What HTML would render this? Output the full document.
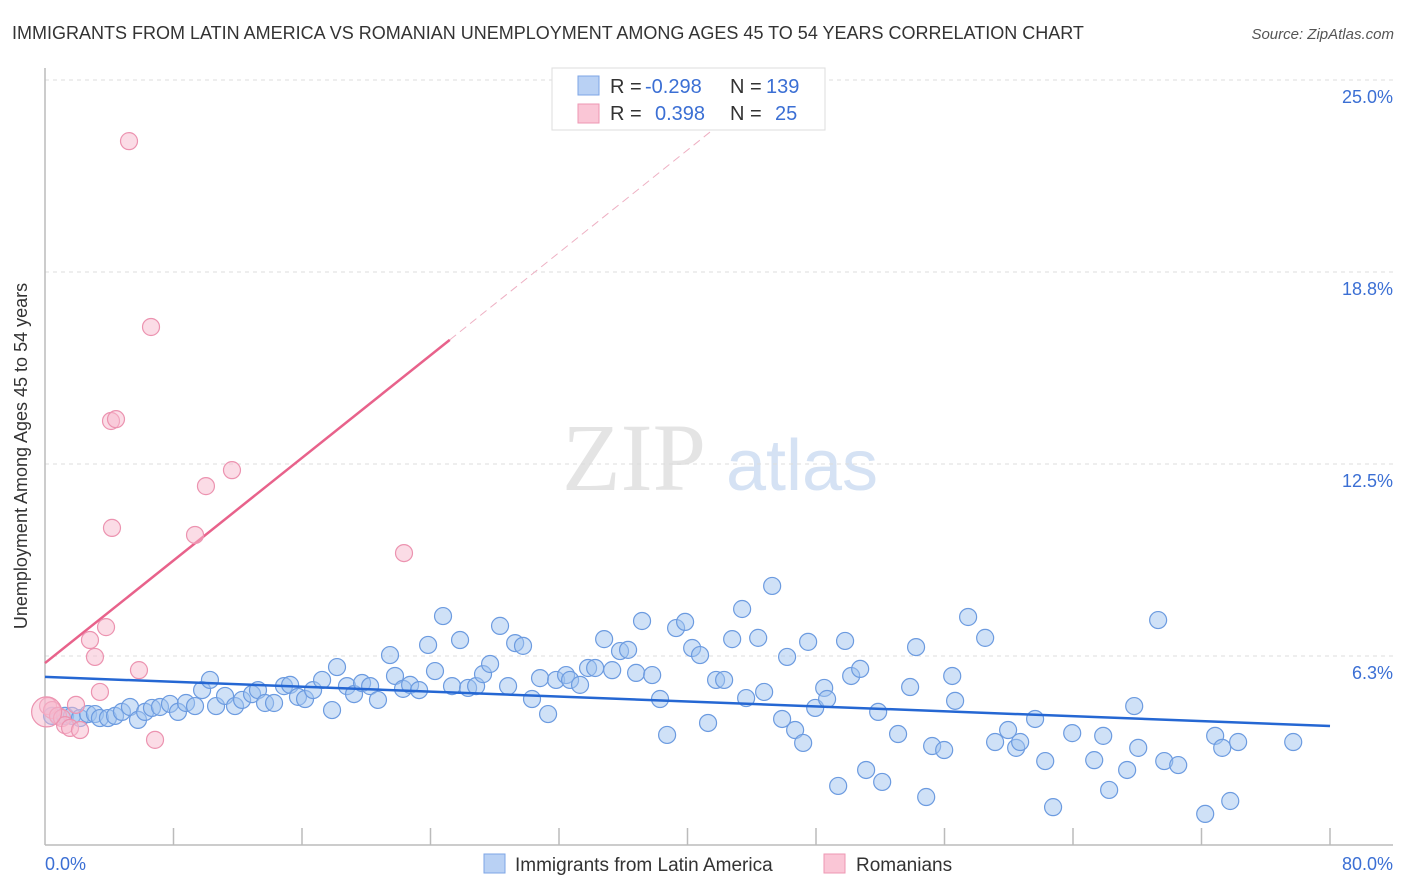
<!DOCTYPE html>
<html><head><meta charset="utf-8"><style>
body{margin:0;background:#fff;font-family:"Liberation Sans",sans-serif;}
svg{display:block}
</style></head><body>
<svg id="chart" width="1406" height="892" xmlns="http://www.w3.org/2000/svg">
<text x="12" y="39" font-size="18" fill="#333">IMMIGRANTS FROM LATIN AMERICA VS ROMANIAN UNEMPLOYMENT AMONG AGES 45 TO 54 YEARS CORRELATION CHART</text>
<text x="1394" y="39" font-size="15" fill="#555" font-style="italic" text-anchor="end">Source: ZipAtlas.com</text>
<g>
<text x="634" y="490" font-size="96" fill="#e4e4e4" text-anchor="middle" font-family="Liberation Serif,serif">ZIP</text>
<text x="802" y="490" font-size="72" fill="#d5e2f4" text-anchor="middle">atlas</text>
</g>
<g id="grid"></g>
<g id="axes"></g>
<g id="trend"></g>
<g id="points"></g>
<text x="27" y="456" font-size="18" fill="#333" text-anchor="middle" transform="rotate(-90 27 456)">Unemployment Among Ages 45 to 54 years</text>
<text x="45" y="870" font-size="18" fill="#3b6fd4">0.0%</text>
<text x="1393" y="870" font-size="18" fill="#3b6fd4" text-anchor="end">80.0%</text>
<g>
<rect x="552" y="68" width="273" height="62" fill="#fff" stroke="#ddd"/>
<rect x="578" y="76" width="21" height="19" fill="#b9d1f4" stroke="#7da5e6"/>
<rect x="578" y="104" width="21" height="19" fill="#fac6d6" stroke="#ee97b3"/>
<text y="93" font-size="20"><tspan x="610" fill="#333">R = </tspan><tspan x="645" fill="#3b6fd4">-0.298</tspan><tspan x="730" fill="#333">N = </tspan><tspan x="766" fill="#3b6fd4">139</tspan></text>
<text y="120" font-size="20"><tspan x="610" fill="#333">R = </tspan><tspan x="655" fill="#3b6fd4">0.398</tspan><tspan x="730" fill="#333">N = </tspan><tspan x="775" fill="#3b6fd4">25</tspan></text>
</g>
<g>
<rect x="484" y="854" width="21" height="19" fill="#b9d1f4" stroke="#7da5e6"/>
<text x="515" y="871" font-size="19" fill="#333">Immigrants from Latin America</text>
<rect x="824" y="854" width="21" height="19" fill="#fac6d6" stroke="#ee97b3"/>
<text x="856" y="871" font-size="19" fill="#333">Romanians</text>
</g>
</svg>
<script>
const yTicks=[6.3,12.5,18.8,25.0];
const yTickVals=[6.25,12.5,18.75,25];
const blueX=[0.44,0.81,1.25,1.68,2.18,2.68,3.11,3.42,3.92,4.36,4.79,5.29,5.79,6.23,6.66,7.16,7.78,8.28,8.78,9.34,9.78,10.27,10.65,11.21,11.83,12.27,12.89,13.26,13.70,14.26,14.88,15.26,15.75,16.19,16.69,17.25,17.87,18.18,18.80,19.24,19.74,20.24,20.73,21.48,21.79,22.29,22.73,23.29,23.85,24.28,24.78,25.34,25.84,26.34,26.84,27.27,27.71,28.33,28.83,29.27,29.76,30.32,30.82,31.32,31.82,32.44,32.69,33.31,33.81,34.25,34.81,35.31,35.80,36.30,36.80,37.17,37.80,38.29,38.73,39.29,39.85,40.29,40.78,41.28,41.78,42.28,42.78,43.40,43.65,44.40,44.77,45.27,45.89,46.20,46.70,47.20,47.51,47.95,48.51,48.69,49.38,49.81,50.19,50.75,51.12,51.87,52.12,53.11,53.86,54.23,54.86,55.23,55.98,56.48,56.66,57.47,58.53,59.15,59.96,60.46,60.71,61.64,62.27,62.76,63.95,65.32,65.88,66.25,67.37,67.81,68.06,69.30,69.68,70.55,72.23,72.85,73.29,73.79,74.28,77.71];
const blueY=[4.30,4.30,4.30,4.30,4.23,4.36,4.36,4.23,4.23,4.30,4.43,4.59,4.17,4.43,4.56,4.59,4.69,4.43,4.72,4.62,5.14,5.47,4.62,4.95,4.62,4.82,5.01,5.14,4.72,4.72,5.27,5.31,4.92,4.85,5.14,5.47,4.49,5.89,5.27,5.01,5.37,5.27,4.82,6.28,5.60,5.18,5.31,5.14,6.61,5.76,7.55,5.27,6.77,5.21,5.27,5.66,5.99,7.23,5.27,6.67,6.58,4.85,5.53,4.36,5.47,5.63,5.47,5.31,5.86,5.86,6.80,5.79,6.41,6.45,5.70,7.39,5.63,4.85,3.68,7.16,7.36,6.51,6.28,4.07,5.47,5.47,6.80,7.78,4.88,6.84,5.08,8.53,4.20,6.22,3.84,3.42,6.71,4.56,5.21,4.85,2.02,6.74,5.60,5.83,2.54,4.43,2.15,3.71,5.24,6.54,1.66,3.32,3.19,5.60,4.79,7.52,6.84,3.45,3.84,3.26,3.45,4.20,2.83,1.33,3.74,2.86,3.65,1.89,2.54,4.62,3.26,7.42,2.83,2.70,1.11,3.65,3.26,1.53,3.45,3.45];
const pinkX=[0.19,0.44,0.81,1.06,1.25,1.56,1.93,2.18,2.80,3.11,3.42,3.80,4.17,4.11,4.42,5.85,6.85,6.60,5.23,9.34,10.02,11.64,22.35,0.10];
const pinkY=[4.62,4.49,4.30,4.23,4.00,3.91,4.66,3.84,6.77,6.22,5.08,7.19,10.42,13.90,13.96,5.79,3.52,16.96,23.01,10.19,11.78,12.30,9.60,4.43];
const blueTrend=[5.57,3.97]; // value at x=0 and x=80
const pinkTrend=[6.02,0.4175]; // intercept, slope
const NS='http://www.w3.org/2000/svg';
const X=v=>45+v/80*1285;
const Y=v=>848-v*30.72;
function mk(tag,attrs,parent){const e=document.createElementNS(NS,tag);for(const k in attrs)e.setAttribute(k,attrs[k]);document.getElementById(parent).appendChild(e);return e;}
yTickVals.forEach((v,i)=>{
 const l=mk('line',{x1:45,x2:1393,y1:Y(v),y2:Y(v),stroke:'#ddd','stroke-dasharray':'4,4'},'grid');
 
 
 const t=mk('text',{x:1393,y:Y(v)+23,'font-size':18,fill:'#3b6fd4','text-anchor':'end'},'grid');
 t.textContent=yTicks[i].toFixed(1)+'%';
 
 
});
const ax=mk('line',{x1:45,x2:1393,y1:845,y2:845,stroke:'#bbb','stroke-width':1.5},'axes');


const ay=mk('line',{x1:45,x2:45,y1:68,y2:845,stroke:'#bbb','stroke-width':1.5},'axes');


for(let i=1;i<=10;i++){const tk=mk('line',{x1:X(i*8),x2:X(i*8),y1:828,y2:845,stroke:'#bbb','stroke-width':1.5},'axes');
 
 }
const pe=25.2, pd=43.3;
const pl=mk('line',{x1:X(0),y1:Y(pinkTrend[0]),x2:X(pe),y2:Y(pinkTrend[0]+pinkTrend[1]*pe),stroke:'#e8628b','stroke-width':2.5},'trend');


const pdl=mk('line',{x1:X(pe),y1:Y(pinkTrend[0]+pinkTrend[1]*pe),x2:X(pd),y2:Y(pinkTrend[0]+pinkTrend[1]*pd),stroke:'#eeb0c3','stroke-width':1,'stroke-dasharray':'8,5'},'trend');


blueX.forEach((v,i)=>{const c=mk('circle',{cx:X(v),cy:Y(blueY[i]),r:8.5,fill:'rgba(160,195,240,0.5)',stroke:'#6c9be0','stroke-width':1.2},'points');
 
 });
pinkX.forEach((v,i)=>{const c=mk('circle',{cx:X(v),cy:Y(pinkY[i]),r:i===pinkX.length-1?15:8.5,fill:'rgba(248,185,205,0.5)',stroke:'#ec93b0','stroke-width':1.2},'points');
 
 });
const bl=mk('line',{x1:X(0),y1:Y(blueTrend[0]),x2:X(80),y2:Y(blueTrend[1]),stroke:'#2567d3','stroke-width':2.5},'points');


</script>
</body></html>
